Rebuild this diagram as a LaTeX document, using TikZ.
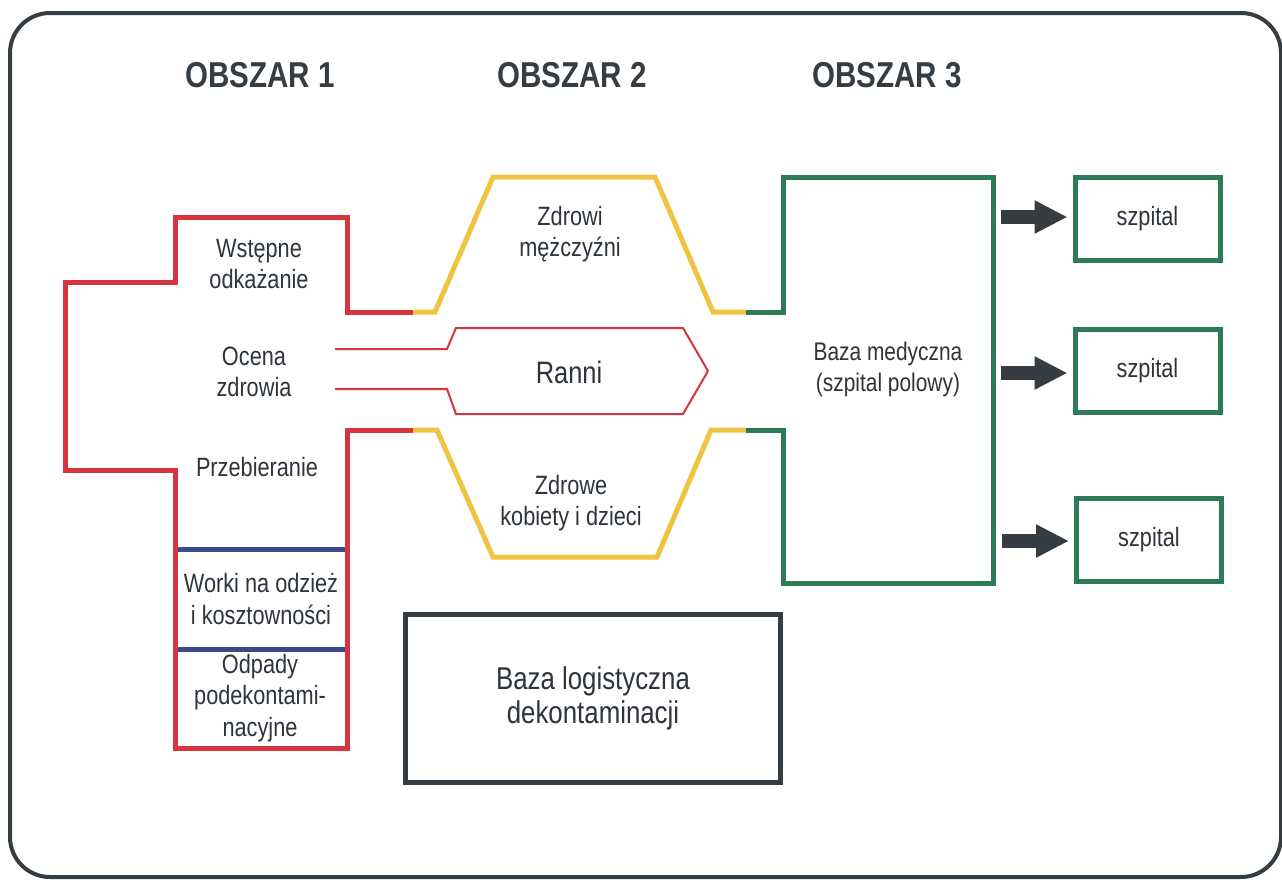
\documentclass[tikz,border=0pt]{standalone}
\usepackage{fontspec}
\setmainfont{Liberation Sans}[FakeStretch=0.82]
\usetikzlibrary{arrows.meta}
\definecolor{cred}{HTML}{D8343F}
\definecolor{cyel}{HTML}{EEC443}
\definecolor{cgrn}{HTML}{2D7A57}
\definecolor{cblu}{HTML}{3B4A8C}
\definecolor{cdark}{HTML}{353D43}
\definecolor{ctext}{HTML}{2E3439}
\begin{document}
\begin{tikzpicture}[x=1pt,y=-1pt,
  wall/.style={line width=5pt, line join=miter},
  thinwall/.style={line width=2pt, line join=miter, draw=cred},
  lbl/.style={align=center, text=ctext, font=\fontsize{26.5}{31.5}\selectfont, inner sep=0pt},
  title/.style={text=cdark, font=\fontsize{36}{40}\selectfont\bfseries, inner sep=0pt},
  hosp/.style={draw=cgrn, line width=5pt, minimum width=145pt, minimum height=83pt, text=ctext, font=\fontsize{26.5}{30}\selectfont, inner sep=0pt},
  bigarr/.style={draw=cdark, line width=14pt, -{Triangle[length=33pt,width=31pt]}}
]
\useasboundingbox (0,0) rectangle (1282,879);
\fill[white] (0,0) rectangle (1282,879);
% outer frame
\draw[cdark, line width=4pt, rounded corners=40pt] (10,13) rectangle (1281,877);

% titles
\node[title] (t1) at (260,75) {OBSZAR 1};
\node[title] (t2) at (572,75) {OBSZAR 2};
\node[title] (t3) at (887,75) {OBSZAR 3};

% red area 1
\draw[wall, cred] (413,312) -- (347,312) -- (347,217) -- (175,217) -- (175,282) -- (65,282)
  -- (65,470) -- (175,470) -- (175,748) -- (347,748) -- (347,430) -- (413,430);
% blue separators
\draw[wall, cblu] (177.5,549) -- (344.5,549);
\draw[wall, cblu] (177.5,649) -- (344.5,649);

% yellow channels
\draw[wall, cyel] (413,312) -- (435,312) -- (493,177) -- (655,177) -- (713,312) -- (746,312);
\draw[wall, cyel] (746,430) -- (711,430) -- (657,557) -- (493,557) -- (437,430) -- (413,430);

% green medical base
\draw[wall, cgrn] (746,312) -- (783,312) -- (783,177) -- (993,177) -- (993,583) -- (783,583) -- (783,430) -- (746,430);

% Ranni channel
\draw[thinwall] (335,349) -- (447,349) -- (456,328) -- (683,328) -- (708,371) -- (683,414) -- (456,414) -- (447,389) -- (335,389);

% logistic base
\node[draw=cdark, line width=5pt, minimum width=375pt, minimum height=168pt, inner sep=0pt,
  align=center, text=ctext, font=\fontsize{31.5}{34}\selectfont] (log) at (593,698.5) {Baza logistyczna\\dekontaminacji};

% labels
\node[lbl] (l1) at (259,264) {Wstępne\\odkażanie};
\node[lbl] (l2) at (254,372) {Ocena\\zdrowia};
\node[lbl] (l3) at (257,467) {Przebieranie};
\node[lbl] (l4) at (261,599) {Worki na odzież\\i kosztowności};
\node[lbl] (l5) at (260,698) {Odpady\\podekontami-\\nacyjne};
\node[lbl] (l6) at (570,234) {Zdrowi\\mężczyźni};
\node[lbl, font=\fontsize{31}{34}\selectfont] (ranni) at (569,372) {Ranni};
\node[lbl] (l7) at (571,503) {Zdrowe\\kobiety i dzieci};
\node[lbl, font=\fontsize{25.5}{31}\selectfont] (bm) at (888,369) {Baza medyczna\\(szpital polowy)};

% hospitals
\node[hosp] (s1) at (1147.5,218.5) {szpital};
\node[hosp] (s2) at (1147.5,370.5) {szpital};
\node[hosp] (s3) at (1149,539.5) {szpital};

% arrows
\coordinate (a1) at (1001,217);
\coordinate (a2) at (1001,373);
\coordinate (a3) at (1002,541);
\draw[bigarr] (a1) -- ([xshift=-5pt]a1 -| s1.west);
\draw[bigarr] (a2) -- ([xshift=-5pt]a2 -| s2.west);
\draw[bigarr] (a3) -- ([xshift=-5pt]a3 -| s3.west);
\end{tikzpicture}
\end{document}
